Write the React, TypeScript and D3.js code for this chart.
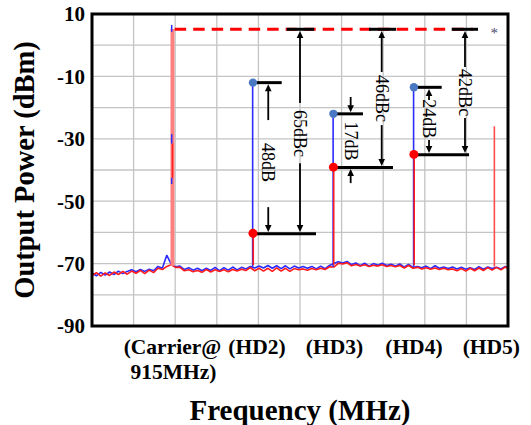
import React from "react";
import * as d3 from "d3";

// ---------- data ----------
const harmonicNames = ["(Carrier@", "(HD2)", "(HD3)", "(HD4)", "(HD5)"];
const harmonicFreq = [915, 1830, 2745, 3660, 4575];
const bluePeak = [6.5, -12, -22, -13.5, NaN];
const redPeak = [5.2, -60.3, -39.1, -35, -26];
const dotHarmonics = [1, 2, 3];

const yTicks = [10, -10, -30, -50, -70, -90];
const yGrid = [0, -10, -20, -30, -40, -50, -60, -70, -80];
const xGridStep = 473;

const noiseStep = 50;
const blueNoise = [
  -73.0, -73.9, -72.8, -73.7, -72.7, -73.5, -72.4, -73.2, -72.5, -72.0,
  -72.6, -71.9, -72.5, -71.8, -72.3, -70.9, -71.5, -67.3, -70.2, -71.0,
  -70.8, -71.9, -71.3, -72.1, -71.5, -72.3, -71.5, -72.2, -71.2, -72.3,
  -71.3, -72.1, -71.1, -72.0, -71.2, -71.7, -70.9, -71.4, -70.8, -71.4,
  -70.6, -71.5, -70.7, -71.6, -70.7, -71.7, -70.8, -71.4, -70.9, -71.5,
  -70.9, -71.7, -70.8, -71.6, -70.6, -70.0, -69.4, -69.8, -69.3, -70.3,
  -69.8, -70.7, -69.9, -70.8, -70.0, -70.5, -69.9, -70.6, -70.2, -70.8,
  -70.1, -71.1, -70.3, -71.2, -70.9, -71.3, -70.8, -71.6, -70.7, -71.5,
  -71.1, -71.6, -71.1, -71.7, -71.2, -71.8, -71.3, -71.9, -71.0, -71.8,
  -71.1, -71.6, -71.2, -71.7, -70.9, -71.5,
];
const redNoise = [
  -73.9, -72.9, -74.0, -73.0, -73.8, -72.7, -73.5, -72.5, -73.4, -72.4,
  -73.1, -72.2, -73.2, -72.1, -72.9, -71.5, -71.9, -70.9, -70.4, -71.2,
  -71.2, -72.3, -72.0, -72.6, -72.2, -72.8, -71.9, -72.7, -72.0, -72.5,
  -72.0, -72.6, -71.9, -72.4, -71.8, -72.2, -71.3, -72.3, -71.5, -72.4,
  -71.5, -72.5, -71.4, -72.4, -71.5, -72.5, -71.6, -72.0, -71.7, -72.1,
  -71.6, -72.0, -71.5, -71.9, -71.0, -71.1, -69.9, -70.1, -69.7, -70.7,
  -70.3, -70.8, -70.4, -70.9, -70.5, -70.8, -70.4, -70.9, -70.6, -71.0,
  -70.6, -71.4, -70.6, -71.5, -71.2, -71.7, -71.3, -71.8, -71.4, -71.9,
  -71.5, -72.0, -71.7, -72.3, -71.6, -72.4, -71.5, -72.3, -71.4, -72.2,
  -71.3, -72.1, -71.2, -72.0, -71.1, -71.9,
];

// blue fragments visible on the carrier line [from, to] dBm
const carrierBlueBits = [[6.5, 4.3], [-28.5, -31.5], [-42.5, -44.5]];

// carrier reference (dashed)
const refLevel = 5.1;
const refStart = 940;
const refEnd = 4330;

// horizontal bracket bars
const barStart = [1830, 1830, 2214, 2745, 2745, 3150, 3660, 3660, 4090];
const barEnd = [2157, 2547, 2524, 3081, 3422, 3457, 3976, 4287, 4389];
const barLevel = [-12, -60.4, 5.1, -22, -39.2, 5.1, -13.5, -35.1, 5.1];

// dimension annotations
const annLabels = ["48dB", "65dBc", "17dB", "46dBc", "24dB", "42dBc"];
const annFreq = [2004, 2365, 2941, 3294, 3832, 4241];
const annTop = [-12, 5.1, -22, 5.1, -13.5, 5.1];
const annTopTail = [-24.0, -18.5, -16.6, -8.6, -17.6, -7.0];
const annBottom = [-60.4, -60.4, -39.2, -39.2, -35.1, -35.1];
const annBottomTail = [-51.9, -37.8, -44.2, -25.6, -30.4, -23.3];
const annLabelCenter = [-37.6, -28.3, -30.7, -17.1, -23.6, -15.2];

export default function App() {
  const W = 531, H = 425;
  const x = d3.scaleLinear().domain([0, 4730]).range([92, 508]);
  const y = d3.scaleLinear().domain([-90, 10]).range([326, 14]);

  const blue = "#2b2bff";
  const red = "#ff1c1c";

  const noiseLine = d3
    .line<number>()
    .x((_, i) => x(i * noiseStep))
    .y((v) => y(v));

  const xGrid = d3.range(1, 10).map((k) => k * xGridStep);

  const arrowHead = (xp: number, tipY: number, dir: number, key: string) => {
    const L = 7, hw = 3.3;
    const p = `M${xp},${tipY} L${xp - hw},${tipY - dir * L} L${xp + hw},${tipY - dir * L} Z`;
    return <path key={key} d={p} fill="#000" />;
  };

  const arrow = (xp: number, tailDb: number, tipDb: number, key: string) => {
    const ty = y(tailDb);
    const by = y(tipDb);
    const dir = by > ty ? 1 : -1;
    const tip = by - dir * 1.6;
    return (
      <g key={key}>
        <line x1={xp} x2={xp} y1={ty} y2={tip - dir * 5} stroke="#000" strokeWidth={1.8} />
        {arrowHead(xp, tip, dir, key + "h")}
      </g>
    );
  };

  const labelDx = (i: number) => (i === 1 ? 4 : i === 4 ? -3 : i === 2 ? 1 : 0);
  const serif = "Liberation Serif, Times New Roman, serif";

  return (
    <svg width={W} height={H} style={{ display: "block", position: "absolute", left: 0, top: 0 }}>
      <rect width={W} height={H} fill="#fff" />
      <defs>
        <clipPath id="plot">
          <rect x={92} y={14} width={416} height={312} />
        </clipPath>
      </defs>

      {/* grid */}
      {xGrid.map((f) => (
        <line key={"gx" + f} x1={x(f)} x2={x(f)} y1={14} y2={326} stroke="#c4c4c4" strokeWidth={1.3} />
      ))}
      {yGrid.map((v) => (
        <line key={"gy" + v} x1={92} x2={508} y1={y(v)} y2={y(v)} stroke="#c4c4c4" strokeWidth={1.3} />
      ))}

      <g clipPath="url(#plot)">
        {/* noise floors */}
        <path d={noiseLine(blueNoise) || ""} fill="none" stroke={blue} strokeWidth={1.6} strokeLinejoin="bevel" />
        <path d={noiseLine(redNoise) || ""} fill="none" stroke={red} strokeWidth={1.6} strokeLinejoin="bevel" />

        {/* carrier */}
        <line x1={x(harmonicFreq[0])} x2={x(harmonicFreq[0])} y1={y(-70.8)} y2={y(redPeak[0])} stroke="#ff8080" strokeWidth={4} />
        <line x1={x(harmonicFreq[0])} x2={x(harmonicFreq[0])} y1={y(-31.5)} y2={y(-42.5)} stroke={red} strokeWidth={1.5} />
        {carrierBlueBits.map((b, i) => (
          <line key={"cb" + i} x1={x(harmonicFreq[0]) - 0.8} x2={x(harmonicFreq[0]) - 0.8} y1={y(b[0])} y2={y(b[1])} stroke={blue} strokeWidth={1.5} />
        ))}

        {/* harmonics */}
        {[1, 2, 3].map((i) => (
          <line key={"bp" + i} x1={x(harmonicFreq[i]) - 0.3} x2={x(harmonicFreq[i]) - 0.3} y1={y(-71)} y2={y(bluePeak[i])} stroke={blue} strokeWidth={1.6} />
        ))}
        {[1, 2, 3].map((i) => (
          <line key={"rp" + i} x1={x(harmonicFreq[i]) + 0.3} x2={x(harmonicFreq[i]) + 0.3} y1={y(-70.5)} y2={y(redPeak[i])} stroke={red} strokeWidth={1.6} />
        ))}
        <line x1={x(harmonicFreq[4])} x2={x(harmonicFreq[4])} y1={y(-71)} y2={y(redPeak[4])} stroke="#ff4d4d" strokeWidth={1.6} />
      </g>

      {/* dashed carrier reference */}
      <line x1={x(refStart)} x2={x(refEnd)} y1={y(refLevel)} y2={y(refLevel)} stroke="#ff0000" strokeWidth={3} strokeDasharray="11.5 7" />

      {/* bracket bars */}
      {barStart.map((s, i) => (
        <line key={"bar" + i} x1={x(s)} x2={x(barEnd[i])} y1={y(barLevel[i])} y2={y(barLevel[i])} stroke="#000" strokeWidth={3} />
      ))}

      {/* annotations */}
      {annLabels.map((lab, i) => {
        const xp = x(annFreq[i]);
        const cy = y(annLabelCenter[i]);
        return (
          <g key={"ann" + i}>
            {arrow(xp, annTopTail[i], annTop[i], "at" + i)}
            {arrow(xp, annBottomTail[i], annBottom[i], "ab" + i)}
            <text
              transform={`translate(${xp},${cy}) rotate(90)`}
              textAnchor="middle"
              dy="0.34em"
              fontFamily={serif}
              fontSize={18}
              fill="#000"
            >
              {lab}
            </text>
          </g>
        );
      })}

      {/* dots */}
      {dotHarmonics.map((i) => (
        <circle key={"bd" + i} cx={x(harmonicFreq[i])} cy={y(bluePeak[i])} r={4.2} fill="#4a78c2" />
      ))}
      {dotHarmonics.map((i) => (
        <circle key={"rd" + i} cx={x(harmonicFreq[i])} cy={y(redPeak[i])} r={4.5} fill="#ff0000" />
      ))}

      {/* star marker */}
      <text x={x(4575)} y={y(refLevel) + 9} textAnchor="middle" fontFamily={serif} fontSize={15} fill="#4a4a6a">*</text>

      {/* frame */}
      <rect x={92} y={14} width={416} height={312} fill="none" stroke="#000" strokeWidth={3} />

      {/* y tick labels */}
      {yTicks.map((v) => (
        <text key={"yt" + v} x={85} y={y(v)} dy="0.35em" textAnchor="end" fontFamily={serif} fontWeight="bold" fontSize={21} fill="#000">
          {v}
        </text>
      ))}

      {/* x labels */}
      {harmonicNames.map((n, i) => (
        <text key={"xl" + i} x={x(harmonicFreq[i]) + labelDx(i)} y={354} textAnchor="middle" fontFamily={serif} fontWeight="bold" fontSize={21.5} fill="#000">
          {n}
        </text>
      ))}
      <text x={x(harmonicFreq[0]) + 1} y={379} textAnchor="middle" fontFamily={serif} fontWeight="bold" fontSize={21.5} fill="#000">
        915MHz)
      </text>

      {/* axis titles */}
      <text x={300} y={420} textAnchor="middle" fontFamily={serif} fontWeight="bold" fontSize={29} fill="#000">
        Frequency (MHz)
      </text>
      <text transform="translate(24,170) rotate(-90)" dy="0.35em" textAnchor="middle" fontFamily={serif} fontWeight="bold" fontSize={28.5} fill="#000">
        Output Power (dBm)
      </text>
    </svg>
  );
}
